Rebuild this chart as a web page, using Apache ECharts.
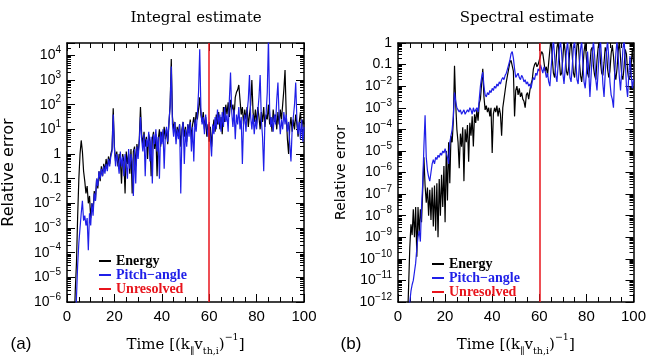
<!DOCTYPE html>
<html><head><meta charset="utf-8">
<script src="https://cdn.jsdelivr.net/npm/echarts@6/dist/echarts.min.js"></script>
<style>html,body{margin:0;padding:0;background:#fff}#c{width:649px;height:362px}</style>
</head><body><div id="c"></div>
<script>
// ---------- data (stored as log10 of the relative error) ----------
const timeIntegral = [
3,3.5,4,4.5,5,5.5,6,6.5,7,7.5, 8,8.5,9,9.5,10,10.5,11,11.5,12,12.5,
13,13.5,14,14.5,15,15.5,16,16.5,17,17.5, 18,18.5,19,19.5,20,20.5,21,21.5,22,22.5,
23,23.5,24,24.5,25,25.5,26,26.5,27,27.5, 28,28.5,29,29.5,30,30.5,31,31.5,32,32.5,
33,33.5,34,34.5,35,35.5,36,36.5,37,37.5, 38,38.5,39,39.5,40,40.5,41,41.5,42,42.5,
43,43.5,44,44.5,45,45.5,46,46.5,47,47.5, 48,48.5,49,49.5,50,50.5,51,51.5,52,52.5,
53,53.5,54,54.5,55,55.5,56,56.5,57,57.5, 58,58.5,59,59.5,60,60.5,61,61.5,62,62.5,
63,63.5,64,64.5,65,65.5,66,66.5,67,67.5, 68,68.5,69,69.5,70,70.5,71,71.5,72,72.5,
73,73.5,74,74.5,75,75.5,76,76.5,77,77.5, 78,78.5,79,79.5,80,80.5,81,81.5,82,82.5,
83,83.5,84,84.5,85,85.5,86,86.5,87,87.5, 88,88.5,89,89.5,90,90.5,91,91.5,92,92.5,
93,93.5,94,94.5,95,95.5,96,96.5,97,97.5, 98,98.5,99,99.5,100];
const energyIntegralLog = [
-7,-5.5,-4.4,-2.5,-1.0,0.0,0.55,0.1,-0.7,-1.1,
-1.6,-1.3,-2.0,-1.7,-2.6,-2.0,-2.3,-1.5,-1.9,-1.0,
-1.4,-0.7,-1.1,-0.5,-0.9,-0.4,-0.7,-0.2,-0.6,-0.1,
-0.4,0.0,0.2,1.85,0.3,-0.3,0.1,-0.5,0.0,-0.2,
-1.2,0.0,-0.3,-1.6,0.1,-0.4,0.0,-0.8,0.2,-1.6,
0.1,0.3,-0.5,0.4,0.0,0.6,1.9,0.8,0.4,0.9,
0.3,0.7,-0.2,0.8,0.5,-0.9,0.6,0.9,0.2,0.8,
-0.9,0.6,1.0,0.3,0.9,0.5,1.1,0.6,1.0,0.4,
1.2,2.0,3.85,1.5,1.0,1.3,0.6,1.1,0.8,1.2,
0.3,1.0,1.3,0.7,1.1,0.5,1.2,0.9,1.4,0.6,
1.2,1.5,1.1,1.7,1.4,1.8,2.3,1.6,1.3,1.7,
1.0,1.5,0.7,1.2,0.5,1.1,0.3,1.0,1.4,0.9,
1.6,1.2,1.7,1.0,1.5,0.8,1.9,1.3,2.0,1.6,
2.1,1.5,2.2,1.8,2.0,1.5,2.3,2.5,2.6,2.8,
2.2,1.6,1.9,1.2,1.8,1.4,1.9,1.1,1.6,2.0,
3.0,1.7,1.3,1.8,1.2,1.9,1.5,1.0,1.7,1.3,
1.9,1.1,1.6,1.4,2.0,1.2,1.5,0.9,1.8,1.3,
1.6,1.0,1.7,1.2,1.8,1.4,2.0,2.6,3.4,1.6,
0.6,0.0,1.1,1.5,0.9,1.4,1.0,1.6,1.2,0.7,
1.3,1.7,1.0,1.4,1.2];
const pitchIntegralLog = [
-8,-7,-5.8,-4.5,-3.6,-3.0,-2.4,-1.9,-2.7,-2.5,
-2.9,-2.6,-3.9,-2.4,-2.9,-2.0,-2.5,-1.6,-1.9,-1.0,
-1.3,-0.7,-1.0,-0.6,-0.9,-0.5,-0.8,-0.4,-0.7,-0.2,
-0.5,-0.1,0.1,1.6,0.2,-0.5,0.0,-0.3,-0.8,0.1,
-0.5,-0.1,-0.9,0.0,-0.4,-1.0,0.2,-0.6,0.0,-0.3,
-1.7,0.2,-1.2,0.3,-0.2,0.5,1.5,0.6,0.1,0.8,
-0.9,0.6,0.3,0.9,-0.3,0.7,-1.2,0.8,0.4,1.0,
0.1,0.7,-1.0,0.9,0.4,1.0,-0.6,0.8,1.1,0.5,
1.3,1.9,3.55,1.2,0.7,1.3,0.4,1.0,0.6,1.2,
-1.6,0.9,1.3,-0.4,1.0,0.3,1.2,0.7,1.3,0.1,
1.1,-0.3,1.4,0.9,1.6,2.5,4.25,1.8,1.2,1.5,
0.8,1.6,1.1,0.7,1.3,0.6,-0.1,1.2,0.8,1.5,
1.0,1.8,1.2,1.6,0.9,1.7,1.1,1.9,1.3,1.6,
0.9,2.2,3.3,1.7,1.1,1.8,0.6,1.6,1.2,1.9,
1.0,1.5,-0.4,1.3,1.6,0.9,1.7,2.2,3.2,1.5,
1.0,1.6,0.8,1.4,1.0,1.7,2.3,3.2,1.4,0.7,
-0.7,1.3,1.6,2.5,4.7,1.8,1.1,1.5,0.9,1.6,
1.2,2.2,2.9,1.5,0.8,1.4,1.0,1.7,1.2,1.6,
0.9,1.3,0.4,-0.3,1.0,1.5,2.0,2.9,1.4,0.8,
1.3,0.6,1.4,0.5,1.1];

const timeSpectral = [
4,4.5,5,5.5,6,6.5,7,7.5,8,8.5, 9,9.5,10,10.5,11,11.5,12,12.5,13,13.5,
14,14.5,15,15.5,16,16.5,17,17.5,18,18.5, 19,19.5,20,20.5,21,21.5,22,22.5,23,23.5,
24,24.5,25,25.5,26,26.5,27,27.5,28,28.5, 29,29.5,30,30.5,31,31.5,32,32.5,33,33.5,
34,34.5,35,35.5,36,36.5,37,37.5,38,38.5, 39,39.5,40,40.5,41,41.5,42,42.5,43,43.5,
44,44.5,45,45.5,46,46.5,47,47.5,48,48.5, 49,49.5,50,50.5,51,51.5,52,52.5,53,53.5,
54,54.5,55,55.5,56,56.5,57,57.5,58,58.5, 59,59.5,60,60.5,61,61.5,62,62.5,63,63.5,
64,64.5,65,65.5,66,66.5,67,67.5,68,68.5, 69,69.5,70,70.5,71,71.5,72,72.5,73,73.5,
74,74.5,75,75.5,76,76.5,77,77.5,78,78.5, 79,79.5,80,80.5,81,81.5,82,82.5,83,83.5,
84,84.5,85,85.5,86,86.5,87,87.5,88,88.5, 89,89.5,90,90.5,91,91.5,92,92.5,93,93.5,
94,94.5,95,95.5,96,96.5,97,97.5,98,98.5, 99,99.5,100];
const energySpectralLog = [
-13,-11.3,-9.5,-8.4,-8.9,-7.7,-9.0,-7.6,-9.9,-7.6,
-8.8,-7.7,-8.3,-6.8,-5.3,-6.6,-7.4,-6.7,-8.0,-6.8,
-8.2,-6.7,-8.5,-6.6,-8.7,-6.5,-9.0,-6.3,-8.0,-6.1,
-7.6,-5.7,-8.3,-5.0,-7.3,-4.6,-6.5,-4.3,-4.6,-3.6,
-1.05,-2.8,-4.0,-4.6,-5.8,-4.2,-4.8,-3.9,-6.4,-4.0,
-4.6,-3.8,-5.5,-3.7,-4.3,-3.4,-4.8,-3.3,-3.7,-3.1,
-3.6,-2.8,-2.6,-1.9,-1.2,-2.5,-3.1,-2.9,-3.2,-3.0,
-3.4,-3.0,-5.1,-3.3,-3.0,-3.2,-2.9,-3.4,-3.0,-3.3,
-4.3,-3.0,-2.6,-2.2,-1.8,-1.5,-1.2,-0.9,-0.8,-0.75,
-1.3,-3.4,-2.2,-2.0,-2.4,-2.1,-2.5,-2.3,-2.6,-2.7,
-3.0,-2.4,-2.3,-2.6,-2.2,-1.9,-1.7,-1.2,-1.0,-0.9,
-1.1,-1.0,-0.8,-0.6,-0.4,-0.5,-0.9,-1.3,-1.1,-1.5,
-0.9,-0.3,0.2,-0.7,-1.4,-1.6,-1.0,-0.2,0.1,-0.8,
-1.5,-1.4,-0.7,0.1,-0.4,-1.3,-1.5,-1.1,-0.3,0.2,
-0.6,-1.4,-1.6,-0.9,-0.1,0.1,-0.8,-1.5,-1.8,-1.2,
-0.4,0.0,-0.7,-1.4,-1.6,-1.0,-0.3,-0.2,-1.1,-1.5,
-1.7,-0.8,-0.2,0.1,-0.9,-1.4,-1.5,-0.9,-0.2,-0.4,
-1.2,-1.6,-1.3,-0.5,-0.1,-0.6,-1.4,-1.7,-1.2,-0.4,
0.1,-0.7,-1.5,-1.7,-1.1,-0.3,-0.5,-1.3,-1.7,-1.6,
-1.0,-0.3,-0.9];
const pitchSpectralLog = [
-14,-13,-12.0,-11.5,-11.2,-11.0,-10.6,-10.2,-9.5,-9.0,
-8.7,-9.2,-7.6,-6.5,-4.8,-3.35,-5.3,-5.9,-6.2,-6.4,
-6.0,-5.6,-5.4,-5.6,-5.3,-5.4,-5.2,-5.3,-5.1,-5.2,
-5.0,-5.1,-4.9,-5.1,-5.3,-5.6,-4.6,-4.3,-4.0,-3.4,
-2.3,-2.7,-3.0,-3.1,-3.2,-3.1,-3.3,-3.2,-3.1,-3.3,
-3.2,-3.1,-3.2,-3.0,-3.1,-3.3,-3.0,-3.2,-3.1,-3.0,
-3.2,-2.6,-2.0,-1.6,-1.35,-2.0,-2.4,-2.5,-2.3,-2.4,
-2.2,-2.3,-2.1,-2.2,-2.0,-2.1,-1.9,-2.0,-1.8,-1.9,
-1.7,-1.6,-1.7,-1.5,-1.4,-1.2,-1.0,-0.8,-0.5,-0.4,
-0.7,-1.2,-1.6,-1.5,-1.4,-1.6,-1.7,-1.5,-1.6,-1.8,
-1.7,-1.9,-1.8,-2.0,-1.9,-2.1,-1.8,-1.6,-1.7,-1.4,
-1.5,-1.2,-1.3,-1.0,-1.2,-1.4,-1.1,-1.3,-1.6,-1.4,
-1.8,-2.0,-1.2,-0.5,0.2,-0.6,-1.5,-1.8,-1.0,-0.3,
0.1,-0.5,-1.4,-1.9,-1.2,-0.4,0.1,-0.7,-1.6,-1.8,
-1.1,-0.2,0.1,-0.8,-1.7,-1.9,-1.0,-0.3,0.1,-0.9,
-1.8,-2.1,-1.4,-0.4,-1.3,-2.5,-1.5,-0.5,0.1,-0.6,
-1.7,-2.2,-1.3,-0.3,0.1,-0.8,-1.9,-2.5,-1.4,-0.4,
0.1,-0.7,-1.8,-2.4,-2.6,-3.0,-1.5,-0.5,0.1,-0.6,
-1.6,-2.2,-1.3,-0.3,0.2,-0.8,-2.0,-2.5,-1.5,-0.6,
-1.4,-2.1,-1.7];

const unresolvedTime = 60;
const integralRange = [1e-6, 31623];   // 10^-6 .. 10^4.5
const spectralRange = [1e-12, 1];
const timeRange = [0, 100];
const seriesNames = ['Energy', 'Pitch-angle', 'Unresolved'];
const panelTitles = ['Integral estimate', 'Spectral estimate'];
const panelLetters = ['(a)', '(b)'];

// ---------- styling ----------
const BLACK = '#000000', BLUE = '#1f1fe8', RED = '#e8141c';
const toPairs = (ts, logs) => ts.map((t, i) => [t, Math.pow(10, logs[i])]);

function yLabel(v) {
  const l = Math.log10(v), e = Math.round(l);
  if (Math.abs(l - e) > 0.01) return '';
  if (e === 0) return '{b|1}';
  if (e === -1) return '{b|0.1}';
  return '{b|10}{s|' + (e < 0 ? '\u2212' : '') + Math.abs(e) + '}';
}
function yRich() {
  return {
    b: { fontFamily: 'Liberation Sans', fontSize: 14, color: '#000', lineHeight: 20 },
    s: { fontFamily: 'Liberation Sans', fontSize: 10, color: '#000', lineHeight: 10, verticalAlign: 'top' }
  };
}
function xNameRich() {
  return {
    t: { fontFamily: 'DejaVu Serif', fontSize: 15, color: '#000', lineHeight: 24 },
    s: { fontFamily: 'DejaVu Serif', fontSize: 9.5, color: '#000', lineHeight: 11, verticalAlign: 'bottom' },
    p: { fontFamily: 'DejaVu Serif', fontSize: 9.5, color: '#000', lineHeight: 11, verticalAlign: 'top' }
  };
}
// solid dash pattern keeps tick strokes un-batched so they are always painted
function tickLine() { return { color: '#000', width: 1, type: [40, 0] }; }

function xAx(g, pos) {
  const bottom = pos === 'bottom';
  return {
    type: 'value', gridIndex: g, position: pos, min: timeRange[0], max: timeRange[1], interval: 20,
    axisLine: { show: true, onZero: false, lineStyle: { color: '#000', width: 1.5 } },
    axisTick: { show: true, inside: true, length: 8, lineStyle: tickLine() },
    minorTick: { show: true, splitNumber: 4, length: 5, lineStyle: tickLine() },
    axisLabel: { show: bottom, color: '#000', fontSize: 15, fontFamily: 'Liberation Sans', margin: 7 },
    splitLine: { show: false },
    name: bottom ? '{t|Time [(k}{s|\u2225}{t|v}{s|th,i}{t|)}{p|\u22121}{t|]}' : '',
    nameLocation: 'middle', nameGap: 31, nameTextStyle: { rich: xNameRich() }
  };
}
function yAx(g, pos, range, nameSize) {
  const left = pos === 'left';
  return {
    type: 'log', logBase: 10, gridIndex: g, position: pos, min: range[0], max: range[1], interval: 1,
    axisLine: { show: true, onZero: false, lineStyle: { color: '#000', width: 1.5 } },
    axisTick: { show: true, inside: true, length: 8, lineStyle: tickLine() },
    minorTick: { show: true, splitNumber: 9, length: 4, lineStyle: tickLine() },
    axisLabel: { show: left, formatter: yLabel, rich: yRich(), margin: 6 },
    splitLine: { show: false },
    name: left ? 'Relative error' : '', nameLocation: 'middle', nameGap: 50,
    nameTextStyle: { fontFamily: 'DejaVu Sans', fontSize: nameSize, color: '#000' }
  };
}
function lineSeries(name, color, g, data) {
  return {
    name, type: 'line', xAxisIndex: g * 2, yAxisIndex: g * 2, data, symbol: 'none',
    lineStyle: { color, width: 1.2 }, itemStyle: { color }, clip: true
  };
}
function unresolvedSeries(g) {
  return {
    name: seriesNames[2], type: 'line', xAxisIndex: g * 2, yAxisIndex: g * 2, data: [], symbol: 'none',
    lineStyle: { color: RED }, itemStyle: { color: RED },
    markLine: { symbol: 'none', silent: true, label: { show: false },
      lineStyle: { color: RED, width: 1.5, type: 'solid' }, data: [{ xAxis: unresolvedTime }] }
  };
}
function legendAt(left, top) {
  return {
    orient: 'vertical', left, top, padding: 0, itemWidth: 12, itemHeight: 2, itemGap: 0, icon: 'rect',
    selectedMode: false,
    formatter: n => n.replace('-', '\u2212'),
    textStyle: { fontFamily: 'Liberation Serif', fontWeight: 'bold', fontSize: 14, lineHeight: 13 },
    data: [
      { name: seriesNames[0], textStyle: { color: BLACK } },
      { name: seriesNames[1], textStyle: { color: BLUE } },
      { name: seriesNames[2], textStyle: { color: RED } }
    ]
  };
}
function txt(x, y, text, font) {
  return { type: 'text', x, y, style: { text, align: 'center', verticalAlign: 'middle', textAlign: 'center', textVerticalAlign: 'middle', font, fill: '#000' } };
}

const chart = echarts.init(document.getElementById('c'), null, { renderer: 'canvas' });
chart.setOption({
  animation: false,
  backgroundColor: '#fff',
  grid: [
    { left: 67, top: 43, width: 237, height: 270 },
    { left: 398, top: 43, width: 238, height: 270 }
  ],
  xAxis: [xAx(0, 'bottom'), xAx(0, 'top'), xAx(1, 'bottom'), xAx(1, 'top')],
  yAxis: [yAx(0, 'left', integralRange, 16), yAx(0, 'right', integralRange, 16),
          yAx(1, 'left', spectralRange, 14), yAx(1, 'right', spectralRange, 14)],
  legend: [legendAt(99, 254), legendAt(432, 257)],
  series: [
    lineSeries(seriesNames[0], BLACK, 0, toPairs(timeIntegral, energyIntegralLog)),
    lineSeries(seriesNames[1], BLUE, 0, toPairs(timeIntegral, pitchIntegralLog)),
    unresolvedSeries(0),
    lineSeries(seriesNames[0], BLACK, 1, toPairs(timeSpectral, energySpectralLog)),
    lineSeries(seriesNames[1], BLUE, 1, toPairs(timeSpectral, pitchSpectralLog)),
    unresolvedSeries(1)
  ],
  graphic: [
    txt(196, 18, panelTitles[0], '15px "DejaVu Serif"'),
    txt(527, 18, panelTitles[1], '15px "DejaVu Serif"'),
    txt(21, 344, panelLetters[0], '17px "Liberation Sans"'),
    txt(351, 344, panelLetters[1], '17px "Liberation Sans"')
  ]
});
</script></body></html>
